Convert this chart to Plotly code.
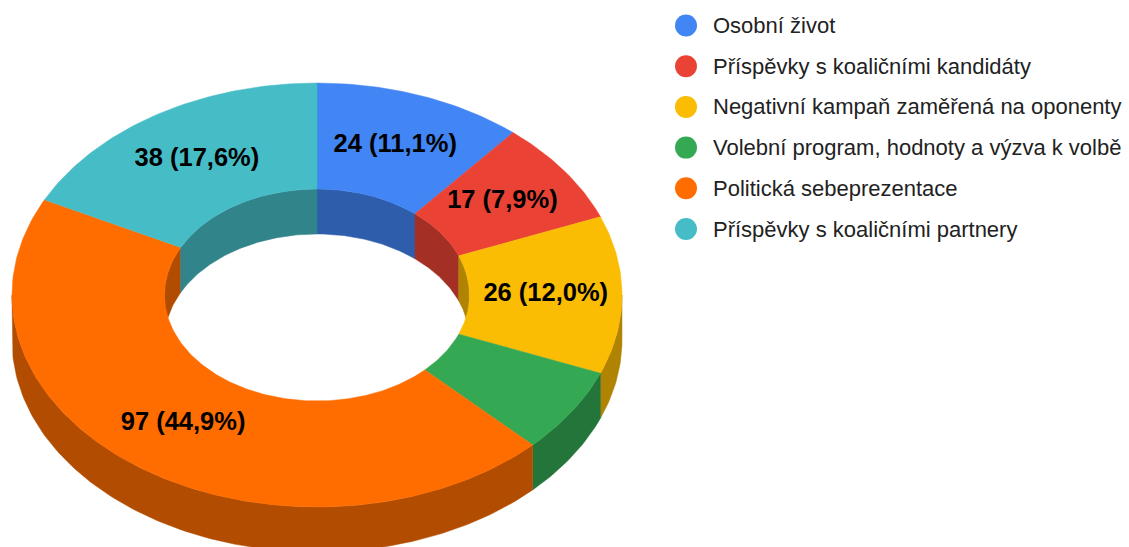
import numpy as np
import plotly.graph_objects as go

# ---- data ----
categories = [
    "Osobní život",
    "Příspěvky s koaličními kandidáty",
    "Negativní kampaň zaměřená na oponenty",
    "Volební program, hodnoty a výzva k volbě",
    "Politická sebeprezentace",
    "Příspěvky s koaličními partnery",
]
values = [24, 17, 26, 14, 97, 38]
top_colors = ["#4285F4", "#EA4335", "#FBBC04", "#34A853", "#FF6D01", "#46BDC6"]
side_colors = ["#2E5DAB", "#A32F25", "#B08302", "#24753A", "#B24C00", "#31848A"]

# ---- layout constants (pixel space) ----
W, H = 1129, 547
CX, CY = 317, 295
RX, RY = 305, 212
HOLE = 0.5
DEPTH = 45
LABEL_R = 0.75
MIN_LABEL_PCT = 7.0
LEG_X, LEG_Y0, LEG_STEP = 686, 25.5, 40.7


def arc(t1, t2, r, dy=0.0):
    n = max(3, int(abs(t2 - t1) / (2 * np.pi) * 400) + 2)
    t = np.linspace(t1, t2, n)
    return CX + RX * r * np.sin(t), CY + dy - RY * r * np.cos(t)


def wall(t1, t2, r):
    x1, y1 = arc(t1, t2, r, 0)
    x2, y2 = arc(t2, t1, r, DEPTH)
    return np.concatenate([x1, x2, x1[:1]]), np.concatenate([y1, y2, y1[:1]])


def ring(t1, t2):
    x1, y1 = arc(t1, t2, 1.0)
    x2, y2 = arc(t2, t1, HOLE)
    return np.concatenate([x1, x2, x1[:1]]), np.concatenate([y1, y2, y1[:1]])


def overlap(a, b, lo, hi):
    s, e = max(a, lo), min(b, hi)
    return (s, e) if e > s else None


total = sum(values)
cum = np.concatenate([[0], np.cumsum(values)])
angles = [(2 * np.pi * cum[i] / total, 2 * np.pi * cum[i + 1] / total) for i in range(len(values))]

fig = go.Figure()

# side walls (outer front half, inner back half)
for (a, b), sc in zip(angles, side_colors):
    pieces = []
    o = overlap(a, b, np.pi / 2, 3 * np.pi / 2)
    if o:
        pieces.append((o, 1.0))
    for lo, hi in [(0, np.pi / 2), (3 * np.pi / 2, 2 * np.pi)]:
        o = overlap(a, b, lo, hi)
        if o:
            pieces.append((o, HOLE))
    for (s, e), r in pieces:
        x, y = wall(s, e, r)
        fig.add_trace(go.Scatter(x=x, y=y, mode="lines", fill="toself", fillcolor=sc,
                                 line=dict(color=sc, width=0.5), hoverinfo="skip"))

# top surfaces
for (a, b), tc, cat, v in zip(angles, top_colors, categories, values):
    x, y = ring(a, b)
    fig.add_trace(go.Scatter(x=x, y=y, mode="lines", fill="toself", fillcolor=tc,
                             line=dict(color=tc, width=0.5), name=cat,
                             hoverinfo="text", text=f"{cat}: {v}"))

# slice labels
lx, ly, lt = [], [], []
for (a, b), v in zip(angles, values):
    pct = 100.0 * v / total
    if pct < MIN_LABEL_PCT:
        continue
    m = (a + b) / 2
    lx.append(CX + RX * LABEL_R * np.sin(m))
    ly.append(CY - RY * LABEL_R * np.cos(m))
    lt.append(f"<b>{v} ({pct:.1f}%)</b>".replace(".", ","))
fig.add_trace(go.Scatter(x=lx, y=ly, mode="text", text=lt, textposition="middle center",
                         textfont=dict(family="Liberation Sans, Arial", size=25.5, color="#000000"),
                         hoverinfo="skip"))

# legend
leg_y = [LEG_Y0 + LEG_STEP * i for i in range(len(categories))]
fig.add_trace(go.Scatter(x=[LEG_X] * len(categories), y=leg_y, mode="markers",
                         marker=dict(size=22, color=top_colors, line=dict(width=0)),
                         hoverinfo="skip"))
for yy, cat in zip(leg_y, categories):
    fig.add_annotation(x=LEG_X + 25, y=yy, xref="x", yref="y", text=cat, showarrow=False,
                       xanchor="left", yanchor="middle",
                       font=dict(family="Liberation Sans, Arial", size=22, color="#222222"))

fig.update_layout(
    width=W, height=H, margin=dict(l=0, r=0, t=0, b=0),
    showlegend=False, paper_bgcolor="white", plot_bgcolor="white",
    xaxis=dict(range=[0, W], visible=False, fixedrange=True),
    yaxis=dict(range=[H, 0], visible=False, fixedrange=True),
)

fig.write_html("out.html", config={"displayModeBar": False},
               post_script="document.body.style.margin='0';")
